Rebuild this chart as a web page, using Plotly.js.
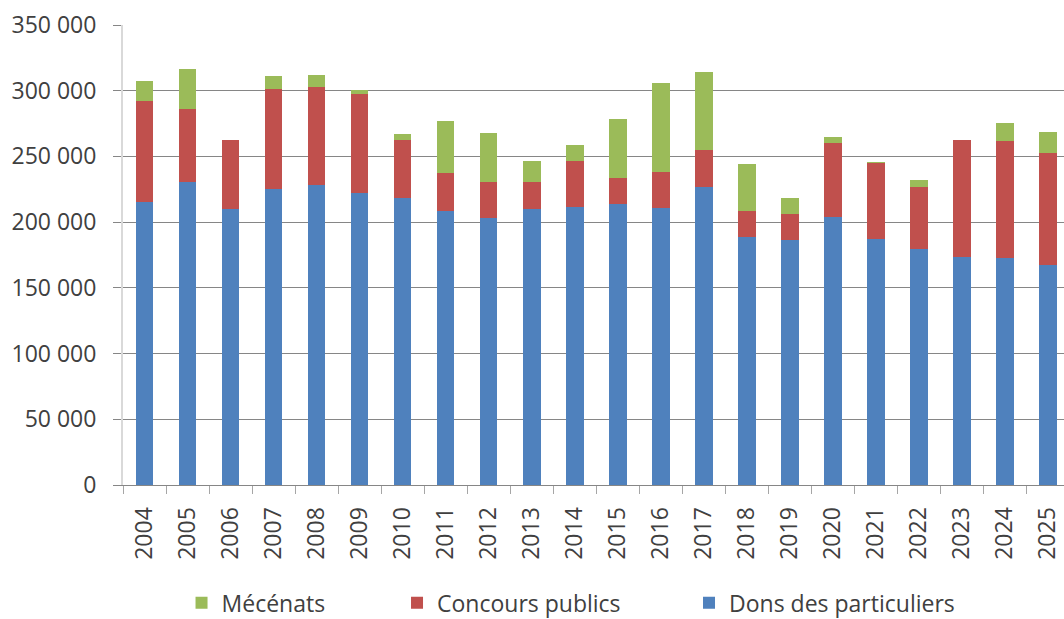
<!DOCTYPE html>
<html>
<head>
<meta charset="utf-8">
<script src="https://cdn.plot.ly/plotly-3.0.1.min.js"></script>
<style>
html, body { margin: 0; padding: 0; overflow: hidden; background: #fff; }
#chart { width: 1064px; height: 619px; }
</style>
</head>
<body>
<div id="chart"></div>
<script>
const years = ["2004","2005","2006","2007","2008","2009","2010","2011","2012","2013","2014","2015","2016","2017","2018","2019","2020","2021","2022","2023","2024","2025"];
const dons = [215700, 230400, 209900, 225300, 228400, 222500, 218700, 208800, 203000, 209900, 211600, 213900, 210900, 226600, 188500, 186500, 204000, 187300, 179400, 173500, 172800, 167700];
const concours = [76100, 55600, 52500, 76100, 74100, 75100, 43900, 28500, 27400, 20500, 35300, 19600, 27400, 28400, 20300, 19500, 56600, 57600, 47200, 88900, 88800, 85000];
const mecenats = [15700, 30200, 0, 9900, 9600, 3100, 4600, 39800, 37800, 16500, 11700, 44800, 67200, 59600, 35300, 12700, 4000, 1200, 5600, 0, 13700, 15800];
const seriesNames = ["Dons des particuliers", "Concours publics", "Mécénats"];
const yTicks = [0, 50000, 100000, 150000, 200000, 250000, 300000, 350000];
const yTickText = ["0", "50 000", "100 000", "150 000", "200 000", "250 000", "300 000", "350 000"];

const FONT = "'Open Sans', Lato, sans-serif";
const TXT = "#404040";
const FS = 23;

const traces = [
  { type: "bar", name: seriesNames[0], x: years, y: dons, marker: { color: "#4F81BD" }, legend: "legend3" },
  { type: "bar", name: seriesNames[1], x: years, y: concours, marker: { color: "#C0504D" }, legend: "legend2" },
  { type: "bar", name: seriesNames[2], x: years, y: mecenats, marker: { color: "#9BBB59" }, legend: "legend" }
];

const legBase = { orientation: "h", yanchor: "middle", xanchor: "left", y: -0.256, bgcolor: "rgba(0,0,0,0)", font: { family: FONT, size: FS, color: TXT } };

const layout = {
  width: 1064, height: 619,
  margin: { l: 123, r: 0, t: 25, b: 134, autoexpand: false },
  barmode: "stack",
  bargap: 0.59,
  paper_bgcolor: "#fff",
  plot_bgcolor: "#fff",
  font: { family: FONT, size: FS, color: TXT },
  showlegend: true,
  legend: Object.assign({}, legBase, { x: 0.0622 }),
  legend2: Object.assign({}, legBase, { x: 0.2912 }),
  legend3: Object.assign({}, legBase, { x: 0.6015 }),
  xaxis: {
    type: "category",
    automargin: false,
    range: [-0.5, 21.374],
    tickangle: -90,
    tickson: "boundaries",
    ticks: "outside",
    ticklen: 8,
    tickcolor: "#a6a6a6",
    showline: true,
    linecolor: "#868686",
    linewidth: 1,
    showgrid: false,
    ticklabelstandoff: 12,
    tickfont: { family: FONT, size: FS, color: TXT },
    fixedrange: true
  },
  yaxis: {
    automargin: false,
    range: [0, 350000],
    tickmode: "array",
    tickvals: yTicks,
    ticktext: yTickText,
    ticks: "outside",
    ticklen: 8,
    tickcolor: "#868686",
    showline: true,
    linecolor: "#d9d9d9",
    linewidth: 2,
    showgrid: true,
    gridcolor: "#868686",
    gridwidth: 1,
    zeroline: false,
    ticklabelstandoff: 12,
    tickfont: { family: FONT, size: FS, color: TXT },
    fixedrange: true
  }
};

Plotly.newPlot("chart", traces, layout, { staticPlot: true, displayModeBar: false });
</script>
</body>
</html>
